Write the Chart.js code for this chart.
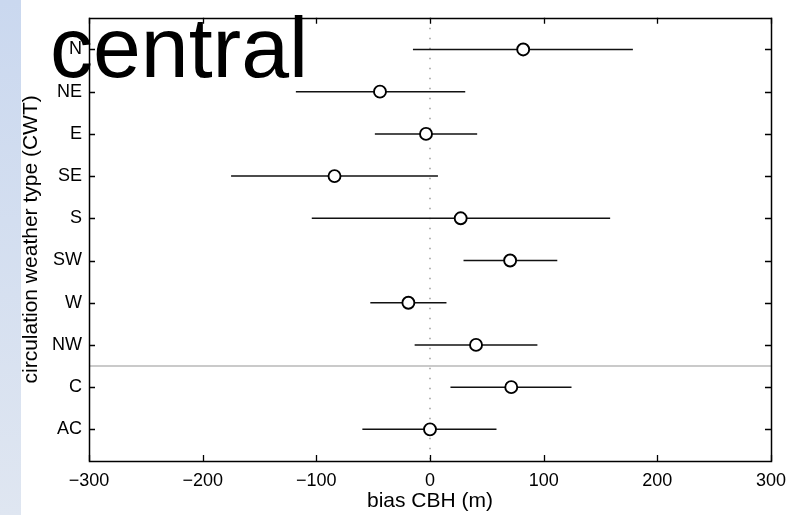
<!DOCTYPE html>
<html>
<head>
<meta charset="utf-8">
<script src="https://cdn.jsdelivr.net/npm/chart.js@4/dist/chart.umd.min.js"></script>
<style>
  html, body { margin: 0; padding: 0; background: #ffffff; }
  #wrap { position: relative; width: 795px; height: 515px; }
  canvas { display: block; }
</style>
</head>
<body>
<div id="wrap"><canvas id="c" width="795" height="515"></canvas></div>
<script>
// ---- data ----
const categories = ['N', 'NE', 'E', 'SE', 'S', 'SW', 'W', 'NW', 'C', 'AC'];
const biasMean   = [82, -44, -3.5, -84, 27, 70.5, -19, 40.5, 71.5, 0];
const ciLower    = [-15, -118, -48.5, -175, -104, 29.5, -52.5, -13.5, 18, -59.5];
const ciUpper    = [178.5, 31, 41.5, 7, 158.5, 112, 14.5, 94.5, 124.5, 58.5];
const xTicks     = [-300, -200, -100, 0, 100, 200, 300];
const separatorAt = 8.5;          // grey line between NW and C
const panelTitle = 'central';
const xTitle = 'bias CBH (m)';
const yTitle = 'circulation weather type (CWT)';

const FONT = "'Liberation Sans', Arial, Helvetica, sans-serif";

const errorSets = categories.map((c, i) => ({
  type: 'line',
  data: [{x: ciLower[i], y: i + 1}, {x: ciUpper[i], y: i + 1}],
  borderColor: '#111111',
  borderWidth: 1.5,
  pointRadius: 0,
  order: 1
}));

const bgPlugin = {
  id: 'bg',
  beforeDraw(chart) {
    const ctx = chart.ctx;
    ctx.save();
    ctx.fillStyle = '#ffffff';
    ctx.fillRect(0, 0, chart.width, chart.height);
    const g = ctx.createLinearGradient(0, 0, 0, chart.height);
    g.addColorStop(0, '#cad8ef');
    g.addColorStop(1, '#dfe6f1');
    ctx.fillStyle = g;
    ctx.fillRect(0, 0, 21, chart.height);
    ctx.restore();
  }
};

const framePlugin = {
  id: 'frame',
  afterDatasetsDraw(chart) {
    const ctx = chart.ctx;
    const a = chart.chartArea;
    const xs = chart.scales.x, ys = chart.scales.y;
    const L = 6;
    ctx.save();
    ctx.strokeStyle = '#000';
    ctx.lineWidth = 1.3;
    ctx.beginPath();
    xs.ticks.forEach(t => {
      const px = Math.round(xs.getPixelForValue(t.value)) + 0.5;
      ctx.moveTo(px, a.bottom); ctx.lineTo(px, a.bottom - L);
      ctx.moveTo(px, a.top); ctx.lineTo(px, a.top + L);
    });
    ys.ticks.forEach(t => {
      const py = Math.round(ys.getPixelForValue(t.value)) + 0.5;
      ctx.moveTo(a.left, py); ctx.lineTo(a.left + L, py);
      ctx.moveTo(a.right, py); ctx.lineTo(a.right - L, py);
    });
    ctx.stroke();
    ctx.lineWidth = 1.5;
    ctx.strokeRect(Math.round(a.left) + 0.5, Math.round(a.top) + 0.5,
                   Math.round(a.right - a.left), Math.round(a.bottom - a.top));
    ctx.restore();
  },
  afterDraw(chart) {
    const ctx = chart.ctx;
    ctx.save();
    ctx.fillStyle = '#000';
    ctx.font = "86px " + FONT;
    ctx.textBaseline = 'alphabetic';
    ctx.textAlign = 'left';
    ctx.fillText(panelTitle, 50, 77);
    ctx.restore();
  }
};

new Chart(document.getElementById('c'), {
  type: 'scatter',
  data: {
    datasets: [
      {
        type: 'scatter',
        data: categories.map((c, i) => ({x: biasMean[i], y: i + 1})),
        pointStyle: 'circle',
        pointRadius: 6,
        pointBorderWidth: 1.9,
        pointBorderColor: '#000',
        pointBackgroundColor: '#ffffff',
        order: 0
      },
      ...errorSets,
      {
        type: 'line',
        data: [{x: xTicks[0], y: separatorAt}, {x: xTicks[xTicks.length - 1], y: separatorAt}],
        borderColor: '#b8b8b8',
        borderWidth: 1.5,
        pointRadius: 0,
        order: 2
      },
      {
        type: 'line',
        data: [{x: 0, y: 0.25}, {x: 0, y: 10.75}],
        borderColor: '#8f8f8f',
        borderWidth: 1.3,
        borderDash: [1.5, 8.5],
        pointRadius: 0,
        order: 3
      }
    ]
  },
  options: {
    responsive: false,
    animation: false,
    events: [],
    layout: { padding: { left: 0, right: 23, top: 13, bottom: 0 } },
    plugins: { legend: { display: false }, tooltip: { enabled: false } },
    scales: {
      x: {
        type: 'linear',
        min: -300, max: 300,
        afterBuildTicks(scale) { scale.ticks = xTicks.map(v => ({value: v})); },
        afterFit(scale) { scale.height = 54; },
        grid: { display: false, drawTicks: false },
        border: { display: false },
        ticks: {
          padding: 9,
          color: '#000',
          font: { family: FONT, size: 18 },
          callback: v => (v < 0 ? '\u2212' + Math.abs(v) : String(v))
        },
        title: {
          display: true, text: xTitle, color: '#000',
          font: { family: FONT, size: 21 },
          padding: { top: 0, bottom: 1 }
        }
      },
      y: {
        type: 'linear',
        min: 0.25, max: 10.75,
        reverse: true,
        afterBuildTicks(scale) { scale.ticks = categories.map((c, i) => ({value: i + 1})); },
        afterFit(scale) { scale.width = 89; },
        grid: { display: false, drawTicks: false },
        border: { display: false },
        ticks: {
          padding: 7,
          color: '#000',
          font: { family: FONT, size: 18 },
          callback: v => categories[Math.round(v) - 1] || ''
        },
        title: {
          display: true, text: yTitle, color: '#000',
          font: { family: FONT, size: 21 },
          padding: { top: 19, bottom: 0 }
        }
      }
    }
  },
  plugins: [bgPlugin, framePlugin]
});
</script>
</body>
</html>
